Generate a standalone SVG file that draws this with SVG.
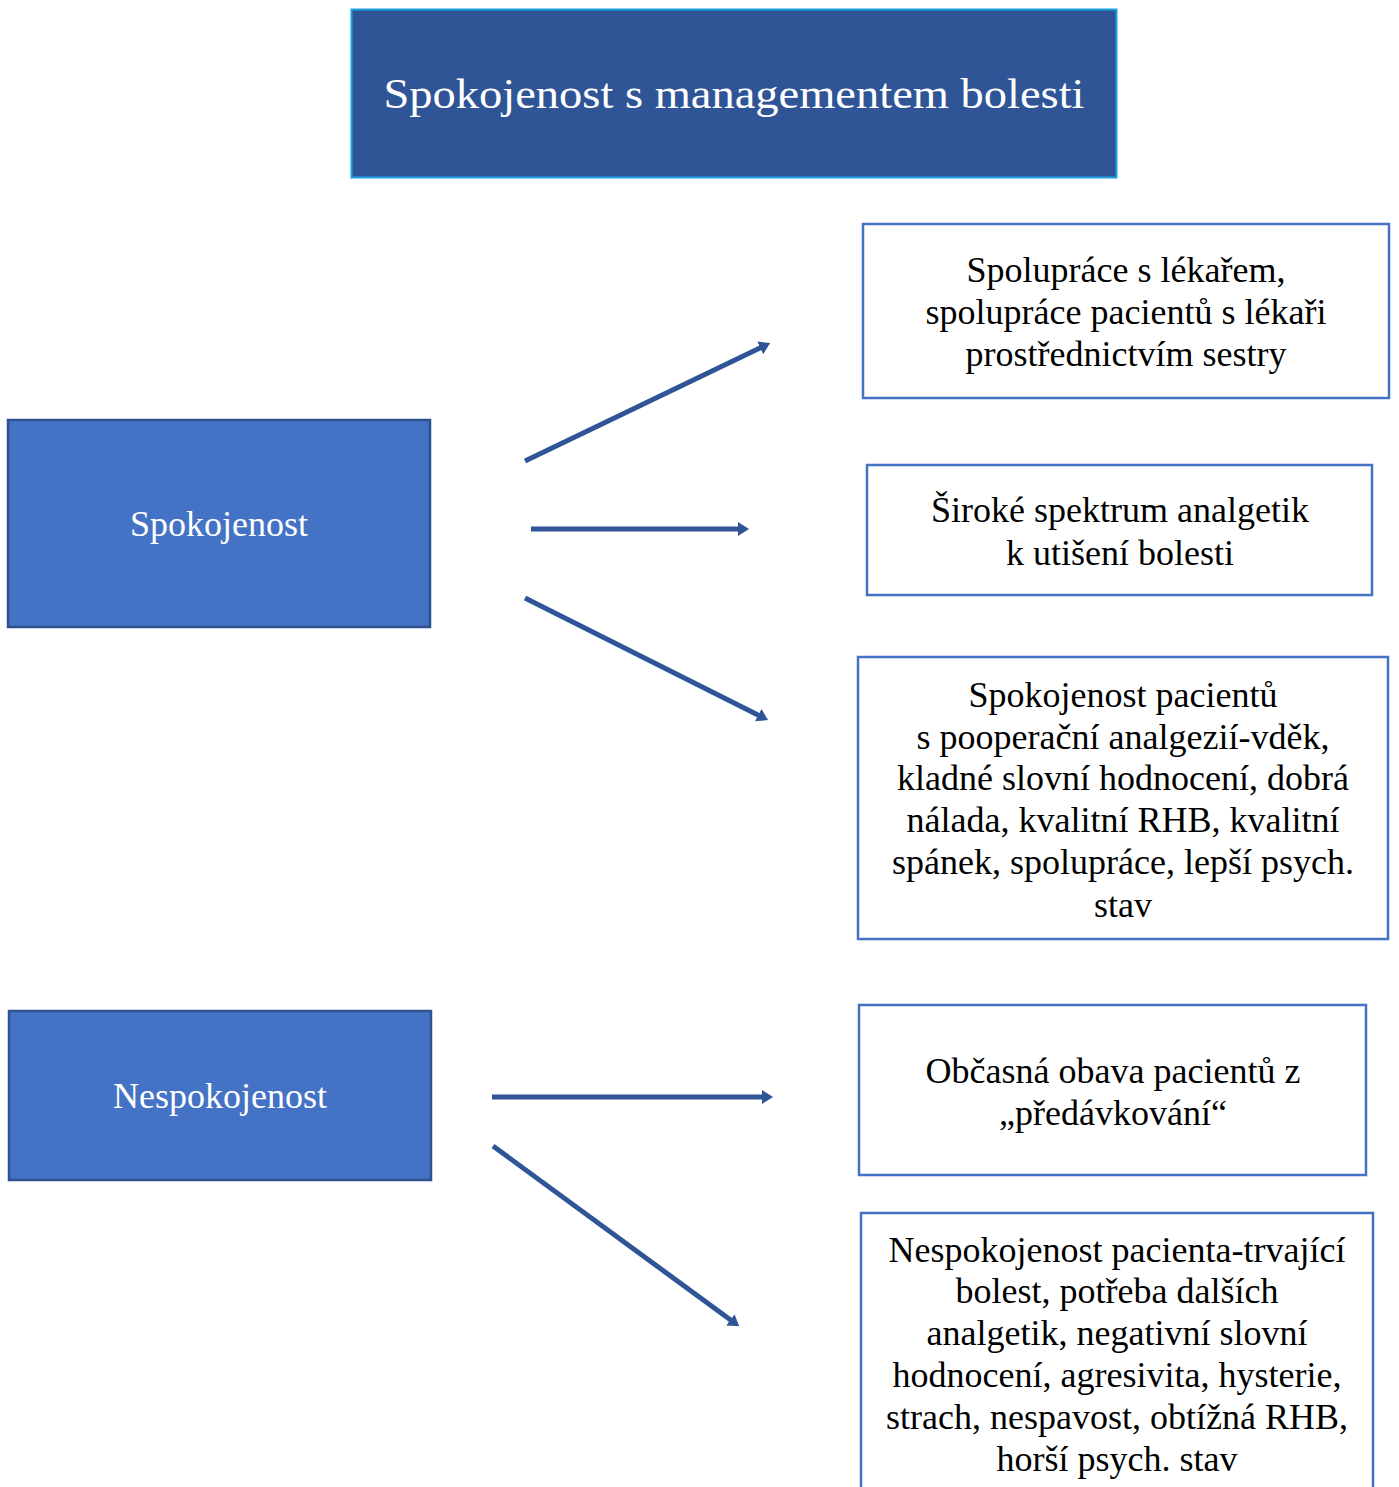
<svg xmlns="http://www.w3.org/2000/svg" width="1399" height="1487" viewBox="0 0 1399 1487">
<defs>
<style>
.t{font-family:"Liberation Serif","Times New Roman",serif;text-anchor:middle}
.w{fill:#ffffff}
.b{fill:#000000;font-size:36px}
.rb{fill:#ffffff;stroke:#4472C4;stroke-width:2.5}
.lb{fill:#4472C4;stroke:#2F528F;stroke-width:2.5}
.c{stroke:#2F5597;stroke-width:5;fill:none;marker-end:url(#ah)}
</style>
<marker id="ah" markerUnits="userSpaceOnUse" markerWidth="14" markerHeight="18" refX="2" refY="9" orient="auto">
<path d="M0,2 L11,9 L0,16 Z" fill="#2F5597"/>
</marker>
</defs>
<rect width="1399" height="1487" fill="#ffffff"/>
<g id="title">
<rect x="351.5" y="9.5" width="765" height="168" fill="#2F5597" stroke="#1BA1E2" stroke-width="2"/>
<text class="t w" x="734" y="108" font-size="43" textLength="701" lengthAdjust="spacingAndGlyphs">Spokojenost s managementem bolesti</text>
</g>
<g id="spokojenost">
<rect class="lb" x="8" y="420" width="422" height="207"/>
<text class="t w" x="219" y="536" font-size="36">Spokojenost</text>
</g>
<g id="nespokojenost">
<rect class="lb" x="9" y="1011" width="422" height="169"/>
<text class="t w" x="220" y="1108" font-size="36">Nespokojenost</text>
</g>
<g id="box1">
<rect class="rb" x="863" y="224" width="526" height="174"/>
<text class="t b" x="1126" y="282">Spolupráce s lékařem,</text>
<text class="t b" x="1126" y="324">spolupráce pacientů s lékaři</text>
<text class="t b" x="1126" y="366">prostřednictvím sestry</text>
</g>
<g id="box2">
<rect class="rb" x="867" y="465" width="505" height="130"/>
<text class="t b" x="1120" y="522">Široké spektrum analgetik</text>
<text class="t b" x="1120" y="565">k utišení bolesti</text>
</g>
<g id="box3">
<rect class="rb" x="858" y="657" width="530" height="282"/>
<text class="t b" x="1123" y="707">Spokojenost pacientů</text>
<text class="t b" x="1123" y="749">s pooperační analgezií-vděk,</text>
<text class="t b" x="1123" y="790">kladné slovní hodnocení, dobrá</text>
<text class="t b" x="1123" y="832">nálada, kvalitní RHB, kvalitní</text>
<text class="t b" x="1123" y="874">spánek, spolupráce, lepší psych.</text>
<text class="t b" x="1123" y="917">stav</text>
</g>
<g id="box4">
<rect class="rb" x="859" y="1005" width="507" height="170"/>
<text class="t b" x="1113" y="1083">Občasná obava pacientů z</text>
<text class="t b" x="1113" y="1125">„předávkování“</text>
</g>
<g id="box5">
<rect class="rb" x="861" y="1213" width="512" height="290"/>
<text class="t b" x="1117" y="1262">Nespokojenost pacienta-trvající</text>
<text class="t b" x="1117" y="1303">bolest, potřeba dalších</text>
<text class="t b" x="1117" y="1345">analgetik, negativní slovní</text>
<text class="t b" x="1117" y="1387">hodnocení, agresivita, hysterie,</text>
<text class="t b" x="1117" y="1429">strach, nespavost, obtížná RHB,</text>
<text class="t b" x="1117" y="1471">horší psych. stav</text>
</g>
<g id="connectors">
<line class="c" x1="525" y1="461" x2="762" y2="347"/>
<line class="c" x1="531" y1="529" x2="740" y2="529"/>
<line class="c" x1="525" y1="598" x2="760" y2="716"/>
<line class="c" x1="492" y1="1097" x2="764" y2="1097"/>
<line class="c" x1="493" y1="1146" x2="732" y2="1321"/>
</g>
</svg>
